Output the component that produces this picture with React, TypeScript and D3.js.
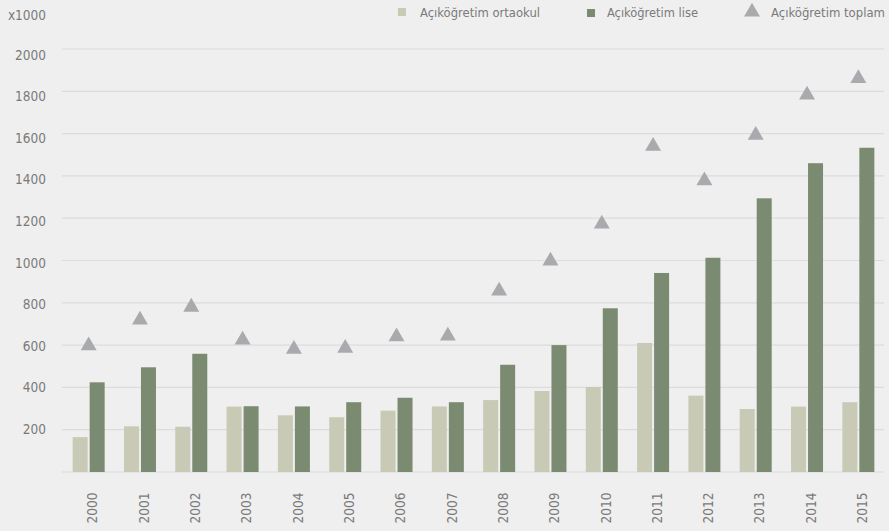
import React from "react";
import * as d3 from "d3";

const years = ["2000","2001","2002","2003","2004","2005","2006","2007","2008","2009","2010","2011","2012","2013","2014","2015"];
const ortaokul = [165, 216, 214, 309, 268, 259, 290, 310, 340, 383, 402, 610, 361, 298, 309, 330];
const lise = [424, 495, 559, 311, 310, 330, 351, 330, 507, 600, 774, 941, 1013, 1294, 1460, 1533];
const toplam = [597, 719, 780, 624, 581, 585, 640, 643, 856, 998, 1173, 1541, 1377, 1593, 1783, 1861];
const yTicks = [200, 400, 600, 800, 1000, 1200, 1400, 1600, 1800, 2000];
const legendLabels = ["Açıköğretim ortaokul", "Açıköğretim lise", "Açıköğretim toplam"];

const W = 889, H = 531;
const FONT = "'Liberation Sans Narrow', 'DejaVu Sans Condensed', Roboto, sans-serif";
const LIGHT = "#c8cab6";
const DARK = "#7a8b71";
const TRI = "#a9aaae";
const GRID = "#dcdcdc";
const TEXT = "#7a7a7a";

export default function App() {
  const x = d3.scaleBand<string>().domain(years).range([63, 884]).padding(0);
  const y = d3.scaleLinear().domain([0, 2000]).range([472, 49]);
  const yLab = d3.scaleLinear().domain([200, 2000]).range([429, 55]);
  const bw = x.bandwidth();
  const tri = d3.symbol().type(d3.symbolTriangle).size(110)();

  return (
    <div style={{ position: "absolute", left: 0, top: 0, width: W, height: H, background: "#efefef" }}>
      <svg width={W} height={H} style={{ display: "block" }} fontFamily={FONT}>
        <rect x={0} y={0} width={W} height={H} fill="#efefef" />
        {yTicks.map((t) => (
          <line key={t} x1={62} x2={884} y1={y(t)} y2={y(t)} stroke={GRID} strokeWidth={1.2} />
        ))}
        <line x1={62} x2={884} y1={y(0)} y2={y(0)} stroke={GRID} strokeWidth={1.2} />
        {yTicks.map((t) => (
          <text key={t} x={46} y={yLab(t)} dy="0.35em" textAnchor="end" fontSize={13.5} fill={TEXT}>{t}</text>
        ))}
        <text x={46} y={15} dy="0.35em" textAnchor="end" fontSize={13.5} fill={TEXT}>x1000</text>
        {years.map((yr, i) => {
          const c = (x(yr) as number) + bw / 2;
          return (
            <g key={yr}>
              <rect x={c - 16} y={y(ortaokul[i])} width={15} height={y(0) - y(ortaokul[i])} fill={LIGHT} />
              <rect x={c + 1} y={y(lise[i])} width={15} height={y(0) - y(lise[i])} fill={DARK} />
              <path d={tri as string} transform={`translate(${c},${y(toplam[i])})`} fill={TRI} />
              <text transform={`translate(${c + 4},508) rotate(-90)`} textAnchor="middle" dy="0.35em" fontSize={13.5} fill={TEXT}>{yr}</text>
            </g>
          );
        })}
        {/* legend */}
        <rect x={398} y={8} width={8} height={8} fill={LIGHT} />
        <text x={420} y={12} dy="0.35em" fontSize={13} fill={TEXT} textLength={120} lengthAdjust="spacingAndGlyphs">{legendLabels[0]}</text>
        <rect x={587} y={9} width={8} height={8} fill={DARK} />
        <text x={607} y={12} dy="0.35em" fontSize={13} fill={TEXT} textLength={91} lengthAdjust="spacingAndGlyphs">{legendLabels[1]}</text>
        <path d={tri as string} transform="translate(752,12)" fill={TRI} />
        <text x={771} y={12} dy="0.35em" fontSize={13} fill={TEXT} textLength={114} lengthAdjust="spacingAndGlyphs">{legendLabels[2]}</text>
      </svg>
    </div>
  );
}
